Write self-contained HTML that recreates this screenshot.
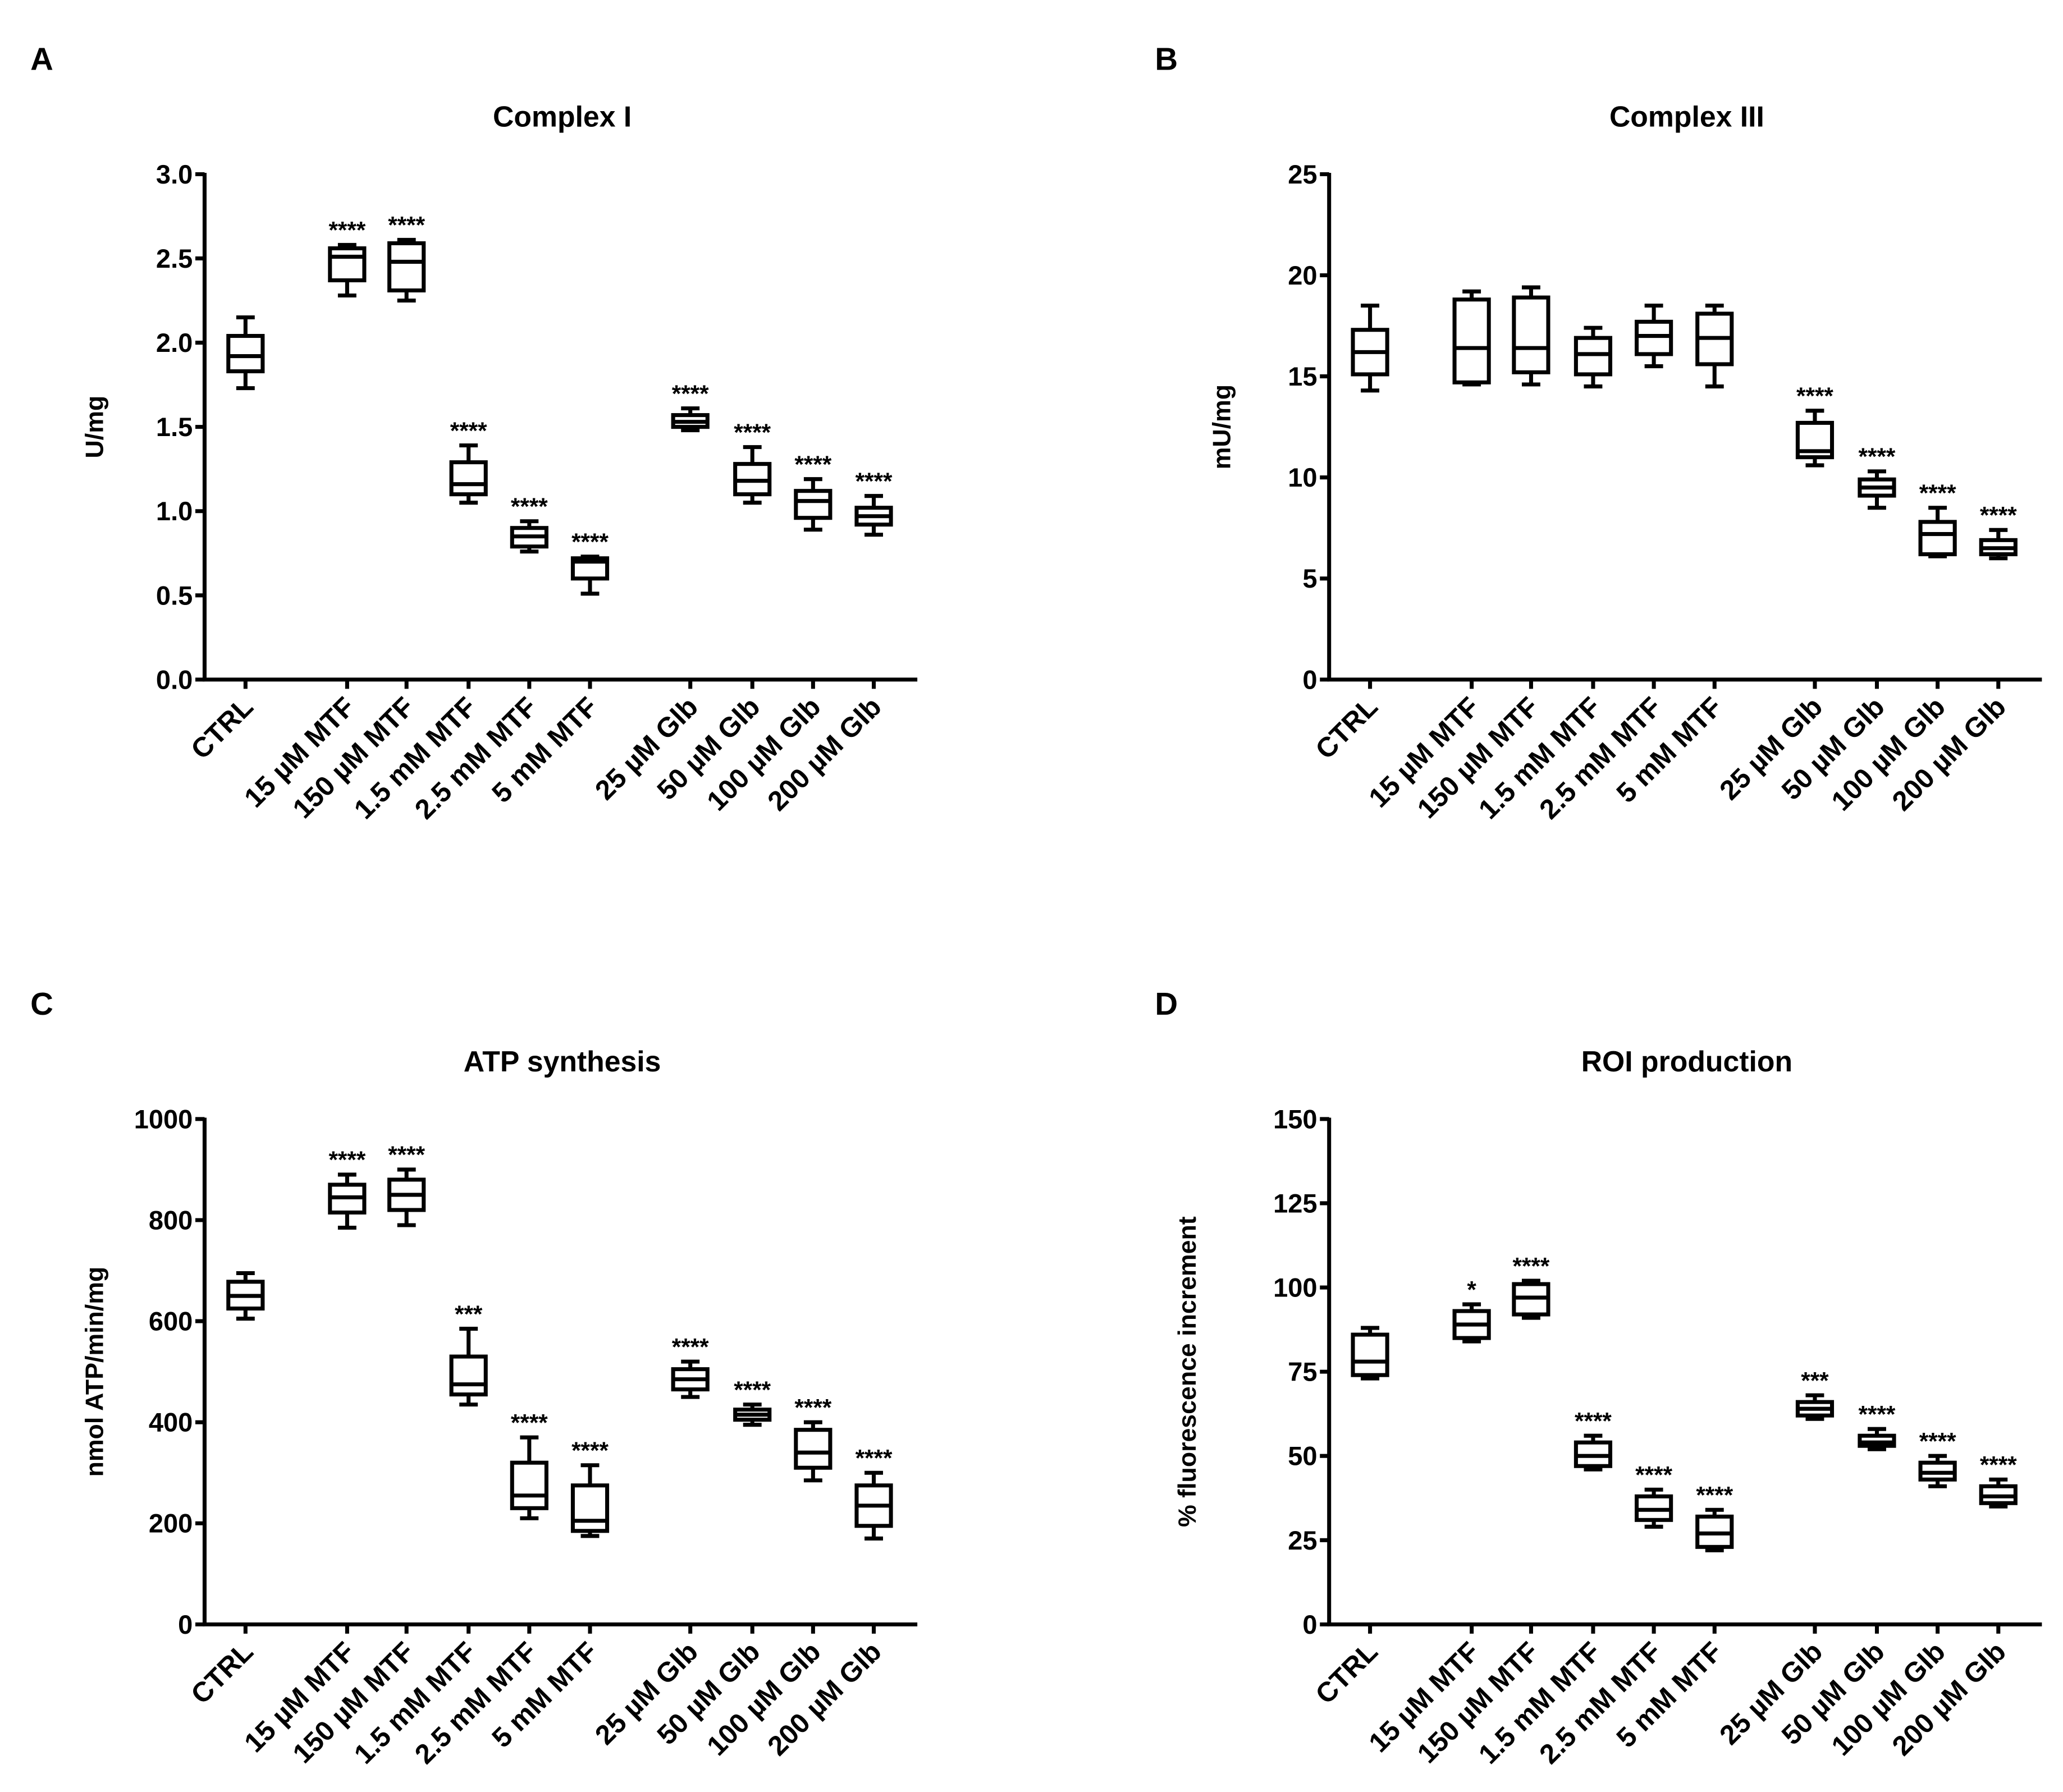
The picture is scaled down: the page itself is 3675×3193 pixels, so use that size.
<!DOCTYPE html>
<html><head><meta charset="utf-8"><style>
html,body{margin:0;padding:0;background:#fff}
svg{display:block}
text{font-family:"Liberation Sans",Arial,sans-serif;font-weight:bold;fill:#000}
</style></head><body>
<svg id="fig" width="3675" height="3193" viewBox="0 0 1563 1358" xmlns="http://www.w3.org/2000/svg"></svg>
<script>
const categories=["CTRL","15 µM MTF","150 µM MTF","1.5 mM MTF","2.5 mM MTF","5 mM MTF","25 µM Glb","50 µM Glb","100 µM Glb","200 µM Glb"];
// [min,q1,median,q3,max]
const complexI=[[1.73,1.83,1.92,2.04,2.15],[2.28,2.37,2.51,2.56,2.58],[2.25,2.31,2.48,2.59,2.61],[1.05,1.10,1.16,1.29,1.39],[0.76,0.79,0.85,0.90,0.94],[0.51,0.60,0.70,0.72,0.73],[1.48,1.50,1.53,1.57,1.61],[1.05,1.10,1.18,1.28,1.38],[0.89,0.96,1.06,1.12,1.19],[0.86,0.92,0.97,1.02,1.09]];
const complexIII=[[14.3,15.1,16.2,17.3,18.5],[14.6,14.7,16.4,18.8,19.2],[14.6,15.2,16.4,18.9,19.4],[14.5,15.1,16.1,16.9,17.4],[15.5,16.1,17.0,17.7,18.5],[14.5,15.6,16.9,18.1,18.5],[10.6,11.0,11.3,12.7,13.3],[8.5,9.1,9.5,9.9,10.3],[6.1,6.2,7.2,7.8,8.5],[6.0,6.2,6.5,6.9,7.4]];
const atp=[[605,625,650,678,695],[785,815,845,870,890],[790,820,850,880,900],[435,455,475,530,585],[210,230,255,320,370],[175,185,205,275,315],[450,465,485,505,520],[395,405,415,425,435],[285,310,340,385,400],[170,195,235,275,300]];
const roi=[[73,74,78,86,88],[84,85,89,93,95],[91,92,97,101,102],[46,47,50,54,56],[29,31,34,38,40],[22,23,27,32,34],[61,62,64,66,68],[52,53,54,56,58],[41,43,45,48,50],[35,36,38,41,43]];
const starsI=["","****","****","****","****","****","****","****","****","****"];
const starsIII=["","","","","","","****","****","****","****"];
const starsATP=["","****","****","***","****","****","****","****","****","****"];
const starsROI=["","*","****","****","****","****","***","****","****","****"];
const ticksI=[0,0.5,1,1.5,2,2.5,3], ticksIIIv=[0,5,10,15,20,25], ticksATP=[0,200,400,600,800,1000], ticksROI=[0,25,50,75,100,125,150];
const NS="http://www.w3.org/2000/svg";
const svg=document.getElementById('fig');
function el(t,a,p){const e=document.createElementNS(NS,t);for(const k in a)e.setAttribute(k,a[k]);(p||svg).appendChild(e);return e;}
const offs=[0,77,122,169,215,261,337,384,430,476];
function panel(cfg){
  const g=el('g',{});
  
  
  const x0=cfg.ax, yT=cfg.top, yB=cfg.top+383, xR=x0+540;
  const ys=v=>yB-(v-cfg.min)/(cfg.max-cfg.min)*(yB-yT);
  const xs=i=>x0+31+offs[i];
  let t=el('text',{x:cfg.ax-132,y:cfg.top-79,'font-size':24},g);t.textContent=cfg.letter;
  
  t=el('text',{x:x0+271,y:cfg.top-36,'font-size':22,'text-anchor':'middle'},g);t.textContent=cfg.title;
  
  const cy=(yT+yB)/2;
  t=el('text',{x:cfg.ylx,y:cy,'font-size':19,'text-anchor':'middle',transform:`rotate(-90 ${cfg.ylx} ${cy})`},g);t.textContent=cfg.ylabel;
  
  const ax=el('path',{d:`M${x0} ${yT-1}V${yB}H${xR}`,stroke:'#000','stroke-width':3,fill:'none'},g);
  
  cfg.ticks.forEach(v=>{
    el('line',{x1:x0-7,x2:x0,y1:ys(v),y2:ys(v),stroke:'#000','stroke-width':3},g);
    const tt=el('text',{x:x0-9,y:ys(v)+7,'font-size':20,'text-anchor':'end'},g);
    tt.textContent=cfg.fmt(v);
    
  });
  cfg.data.forEach((d,i)=>{
    const x=xs(i),w=13,c=7;
    const b=el('g',{fill:'none',stroke:'#000','stroke-width':3},g);
    
    
    el('line',{x1:x,x2:x,y1:ys(d[0]),y2:ys(d[1])},b);
    el('line',{x1:x,x2:x,y1:ys(d[3]),y2:ys(d[4])},b);
    el('line',{x1:x-c,x2:x+c,y1:ys(d[0]),y2:ys(d[0])},b);
    el('line',{x1:x-c,x2:x+c,y1:ys(d[4]),y2:ys(d[4])},b);
    el('rect',{x:x-w,y:ys(d[3]),width:2*w,height:ys(d[1])-ys(d[3])},b);
    el('line',{x1:x-w,x2:x+w,y1:ys(d[2]),y2:ys(d[2])},b);
    el('line',{x1:x,x2:x,y1:yB,y2:yB+7,stroke:'#000','stroke-width':3},g);
    if(cfg.stars[i]){const s=el('text',{x:x,y:ys(d[4])-5,'font-size':18,'font-weight':'normal','text-anchor':'middle'},g);s.textContent=cfg.stars[i];
      }
    const lx=x+7,ly=yB+22;
    const l=el('text',{x:lx,y:ly,'font-size':21,'text-anchor':'end',transform:`rotate(-45 ${lx} ${ly})`},g);
    l.textContent=categories[i];
    
  });
}
panel({name:'panel-a-complex-i',letter:'A',title:'Complex I',ax:155,top:132,min:0,max:3,ticks:ticksI,fmt:v=>v.toFixed(1),data:complexI,stars:starsI,ylabel:'U/mg',ylx:78});
panel({name:'panel-b-complex-iii',letter:'B',title:'Complex III',ax:1007,top:132,min:0,max:25,ticks:ticksIIIv,fmt:v=>String(v),data:complexIII,stars:starsIII,ylabel:'mU/mg',ylx:932});
panel({name:'panel-c-atp-synthesis',letter:'C',title:'ATP synthesis',ax:155,top:848,min:0,max:1000,ticks:ticksATP,fmt:v=>String(v),data:atp,stars:starsATP,ylabel:'nmol ATP/min/mg',ylx:78});
panel({name:'panel-d-roi-production',letter:'D',title:'ROI production',ax:1007,top:848,min:0,max:150,ticks:ticksROI,fmt:v=>String(v),data:roi,stars:starsROI,ylabel:'% fluorescence increment',ylx:906});
</script>
</body></html>
